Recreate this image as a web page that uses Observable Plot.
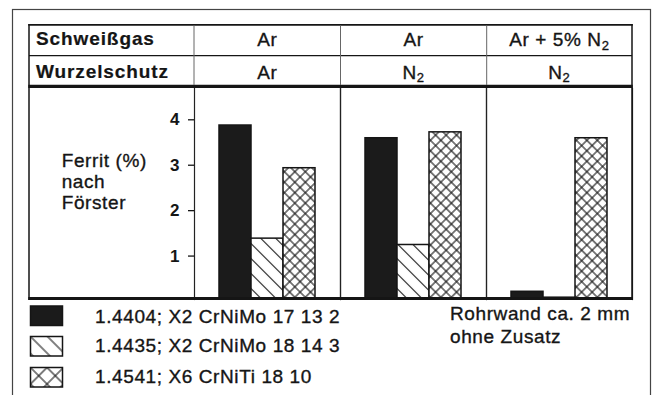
<!DOCTYPE html>
<html><head><meta charset="utf-8">
<script src="https://cdn.jsdelivr.net/npm/d3@7"></script>
<script src="https://cdn.jsdelivr.net/npm/@observablehq/plot@0.6"></script>
<style>
html,body{margin:0;padding:0;background:#fff;}
#root{position:relative;width:655px;height:395px;overflow:hidden;font-family:"Liberation Sans",Arial,Helvetica,sans-serif;}
#chart{position:absolute;left:28px;top:88px;}
#chart svg{background:transparent;}
</style></head><body><div id="root"><div id="chart"></div></div>
<script>
// ---- data ----
const groups = ["g1", "g2", "g3"];
const schweissgas = ["Ar", "Ar", "Ar + 5% N_2"];
const wurzelschutz = ["Ar", "N_2", "N_2"];
const rowLabels = ["Schweißgas", "Wurzelschutz"];
const seriesKeys = ["s1", "s2", "s3"];
const seriesNames = ["1.4404; X2 CrNiMo 17 13 2", "1.4435; X2 CrNiMo 18 14 3", "1.4541; X6 CrNiTi 18 10"];
const ferrit1_4404 = [3.83, 3.55, 0.17];
const ferrit1_4435 = [1.34, 1.20, 0.04];
const ferrit1_4541 = [2.89, 3.68, 3.55];
const yTicks = [1, 2, 3, 4];
const yLabel = ["Ferrit (%)", "nach", "Förster"];
const note = ["Rohrwand ca. 2 mm", "ohne Zusatz"];
const fills = ["#1b1b1b", "url(#hatch)", "url(#cross)"];
const legendFills = ["#1b1b1b", "url(#hatchL1)", "url(#crossL2)"];

const seriesValues = [ferrit1_4404, ferrit1_4435, ferrit1_4541];
const rows = groups.flatMap((g, i) => seriesKeys.map((s, j) => ({group: g, series: s, value: seriesValues[j][i]})));

// ---- chart ----
const FONT = "Liberation Sans, Arial, Helvetica, sans-serif";
const chart = Plot.plot({
  width: 604, height: 211,
  marginLeft: 166, marginRight: 0, marginTop: 0, marginBottom: 0,
  fx: {domain: groups, padding: 0, axis: null},
  x: {domain: seriesKeys, paddingInner: 0, paddingOuter: 0.758, axis: null},
  y: {domain: [0, 4.645]},
  color: {type: "ordinal", domain: seriesKeys, range: fills},
  style: {fontFamily: FONT, color: "#151515", background: "transparent", overflow: "visible"},
  marks: [
    Plot.barY(rows, {fx: "group", x: "series", y: "value", fill: "series", stroke: "#151515", strokeWidth: 1.5}),
    Plot.frame({anchor: "left", stroke: "#222", strokeWidth: 1.2}),
    Plot.frame({anchor: "right", stroke: "#222", strokeWidth: 1.2}),
    Plot.axisY({ticks: yTicks, tickSize: 6, tickPadding: 9, tickFormat: d => String(d), label: null,
      fontSize: 17, fontWeight: "bold", dy: 2, strokeWidth: 1.3})
  ]
});
document.getElementById("chart").appendChild(chart);

// ---- table header, label, legend ----
const svg = d3.select("#root").append("svg")
  .attr("width", 655).attr("height", 395)
  .style("position", "absolute").style("left", "0px").style("top", "0px")
  .style("pointer-events", "none")
  .attr("font-family", FONT).attr("fill", "#151515");

const defs = svg.append("defs");
function pattern(id, size, cross, transform, sw) {
  const p = defs.append("pattern").attr("id", id).attr("patternUnits", "userSpaceOnUse")
    .attr("width", size).attr("height", size).attr("patternTransform", transform);
  p.append("rect").attr("width", size).attr("height", size).attr("fill", "#fff");
  p.append("line").attr("x1", 0).attr("y1", size / 2).attr("x2", size).attr("y2", size / 2).attr("stroke", "#151515").attr("stroke-width", sw);
  if (cross) p.append("line").attr("x1", size / 2).attr("y1", 0).attr("x2", size / 2).attr("y2", size).attr("stroke", "#151515").attr("stroke-width", sw);
}
pattern("hatch", 10.6, false, "rotate(45)", 1.1);
pattern("cross", 7.4, true, "rotate(45)", 1.1);
pattern("hatchL1", 12, false, "translate(30.5,336.5) rotate(45) translate(0,-6)", 1.1);
pattern("crossL2", 11.67, true, "translate(30.5,367.5) rotate(45) translate(-5.83,-5.83)", 1.1);

// outer frame
svg.append("rect").attr("x", 12.5).attr("y", 9.5).attr("width", 638).attr("height", 420)
  .attr("fill", "none").attr("stroke", "#444").attr("stroke-width", 1.2);

const L = 29, R = 632, cols = [194, 340.5, 486.7, 632];
function hline(y, x1, x2, w, c) { svg.append("line").attr("x1", x1).attr("x2", x2).attr("y1", y).attr("y2", y).attr("stroke", c || "#151515").attr("stroke-width", w); }
function vline(x, y1, y2, w, c) { svg.append("line").attr("x1", x).attr("x2", x).attr("y1", y1).attr("y2", y2).attr("stroke", c || "#151515").attr("stroke-width", w); }
hline(24.8, L - 0.75, R + 0.75, 1.8);
hline(55.7, L, R, 1.3);
hline(86.4, L - 0.75, R + 0.75, 3.2);
hline(298.6, L - 0.75, R + 0.75, 3);
vline(L, 24, 300, 1.5);
vline(R, 24, 300, 1.5);
cols.slice(0, 3).forEach(x => vline(x, 25.5, 85, 1, "#666"));

function addText(str, x, y, opts) {
  const t = svg.append("text").attr("x", x).attr("y", y)
    .attr("font-size", 19).attr("letter-spacing", opts.ls || 0.6)
    .attr("font-weight", opts.bold ? "bold" : "normal")
    .attr("stroke", "#151515").attr("stroke-width", opts.bold ? 0.2 : 0.35)
    .attr("text-anchor", opts.anchor || "start");
  str.split("_").forEach((part, i) => {
    if (i === 0) t.append("tspan").text(part);
    else {
      t.append("tspan").attr("dy", 3.5).attr("font-size", 13).text(part[0]);
      if (part.length > 1) t.append("tspan").attr("dy", -3.5).text(part.slice(1));
    }
  });
}
addText(rowLabels[0], 36, 45.3, {bold: true, ls: 0.9});
addText(rowLabels[1], 36, 78.2, {bold: true, ls: 0.9});
for (let i = 0; i < 3; i++) {
  const cx = (cols[i] + cols[i + 1]) / 2;
  addText(schweissgas[i], cx, 46.3, {anchor: "middle"});
  addText(wurzelschutz[i], cx, 78.7, {anchor: "middle"});
}
yLabel.forEach((s, i) => addText(s, 61.7, 166.7 + i * 21, {}));

const legTops = [306, 336.5, 367.5];
const legBase = [323.3, 352, 383];
seriesNames.forEach((name, i) => {
  svg.append("rect").attr("x", 30.5).attr("y", legTops[i]).attr("width", 32).attr("height", 19.5)
    .attr("fill", legendFills[i]).attr("stroke", "#151515").attr("stroke-width", 1.5);
  addText(name, 95, legBase[i], {});
});
note.forEach((s, i) => addText(s, 450, 320 + i * 23.3, {}));
</script></body></html>
